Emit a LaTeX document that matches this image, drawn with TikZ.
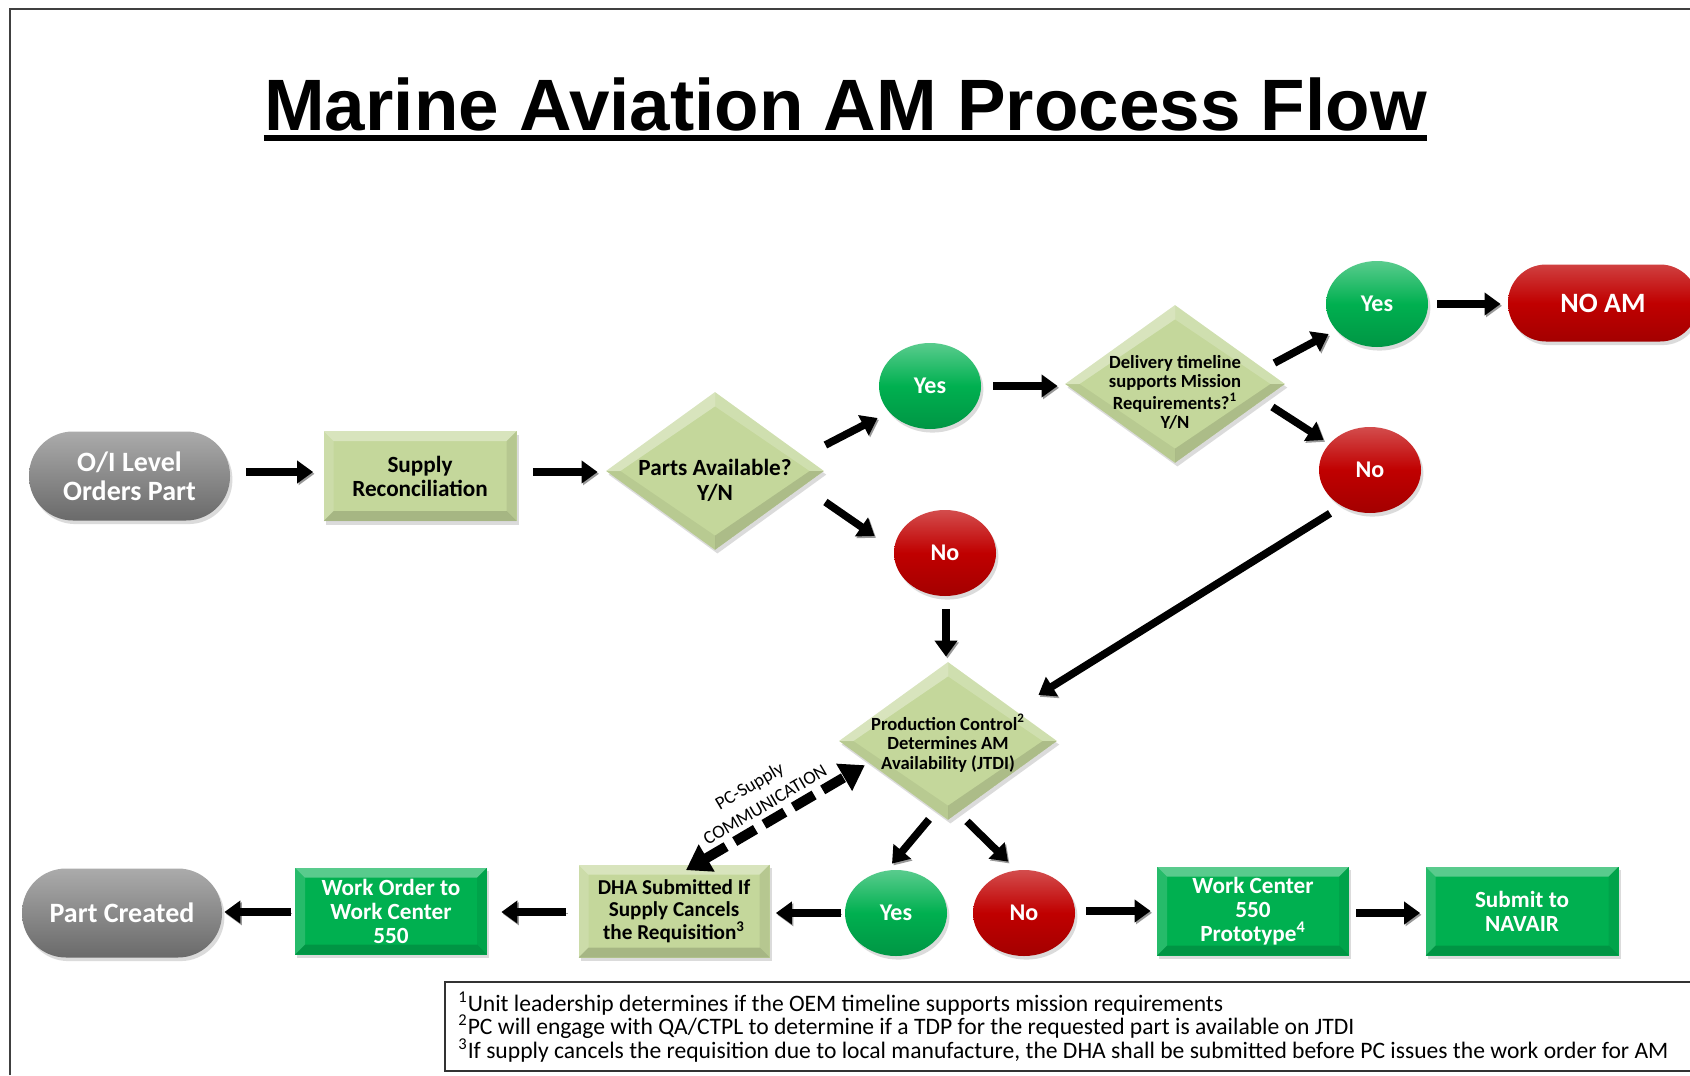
\documentclass[tikz,border=0pt]{standalone}
\usepackage{fontspec}
\setmainfont{Carlito}
\newfontfamily\titlefont{Liberation Sans}
\usetikzlibrary{shapes.geometric,arrows.meta,calc,shadows}
\definecolor{lgreen}{HTML}{C4D79B}
\definecolor{bgreen}{HTML}{00B050}
\definecolor{dred}{HTML}{C00000}
\definecolor{gtop}{HTML}{ABABAB}
\definecolor{gmid}{HTML}{8A8A8A}
\definecolor{gbot}{HTML}{6A6A6A}
\newcommand\dtxt[2][-4pt]{\makebox[0pt]{\smash{\raisebox{#1}{\begin{tabular}{@{}c@{}}#2\end{tabular}}}}}
\tikzset{
  base/.style={inner sep=0pt, align=center, drop shadow={opacity=.28, shadow xshift=1.2pt, shadow yshift=-1.8pt}},
  rbev/.style={path picture={
    \fill[white,opacity=.35] (path picture bounding box.north west) -- (path picture bounding box.north east) -- ([xshift=-5pt,yshift=-5pt]path picture bounding box.north east) -- ([xshift=5pt,yshift=-5pt]path picture bounding box.north west) -- cycle;
    \fill[white,opacity=.15] (path picture bounding box.north west) -- (path picture bounding box.south west) -- ([xshift=5pt,yshift=5pt]path picture bounding box.south west) -- ([xshift=5pt,yshift=-5pt]path picture bounding box.north west) -- cycle;
    \fill[black,opacity=.15] (path picture bounding box.south west) -- (path picture bounding box.south east) -- ([xshift=-5pt,yshift=5pt]path picture bounding box.south east) -- ([xshift=5pt,yshift=5pt]path picture bounding box.south west) -- cycle;
    \fill[black,opacity=.07] (path picture bounding box.north east) -- (path picture bounding box.south east) -- ([xshift=-5pt,yshift=5pt]path picture bounding box.south east) -- ([xshift=-5pt,yshift=-5pt]path picture bounding box.north east) -- cycle;
  }},
  dbev/.style={path picture={
    \coordinate (pC) at (path picture bounding box.center);
    \coordinate (pN) at (path picture bounding box.north);
    \coordinate (pE) at (path picture bounding box.east);
    \coordinate (pS) at (path picture bounding box.south);
    \coordinate (pW) at (path picture bounding box.west);
    \coordinate (qN) at ($(pC)!.82!(pN)$);
    \coordinate (qE) at ($(pC)!.87!(pE)$);
    \coordinate (qS) at ($(pC)!.82!(pS)$);
    \coordinate (qW) at ($(pC)!.87!(pW)$);
    \fill[white,opacity=.35] (pW) -- (pN) -- (qN) -- (qW) -- cycle;
    \fill[white,opacity=.2] (pN) -- (pE) -- (qE) -- (qN) -- cycle;
    \fill[black,opacity=.12] (pE) -- (pS) -- (qS) -- (qE) -- cycle;
    \fill[black,opacity=.06] (pS) -- (pW) -- (qW) -- (qS) -- cycle;
  }},
  pill/.style={base, rectangle, rounded corners=22pt, minimum width=100.5pt, minimum height=44.5pt,
    top color=gtop, bottom color=gbot, middle color=gmid, text=white, font=\bfseries\fontsize{14}{14.5}\selectfont},
  lbox/.style={base, rectangle, fill=lgreen, rbev, minimum width=96pt, minimum height=44.5pt, text=black, font=\bfseries\fontsize{11.6}{12}\selectfont},
  gbox/.style={base, rectangle, fill=bgreen, rbev, minimum width=96pt, minimum height=44.5pt, text=white, font=\bfseries\fontsize{11.6}{12}\selectfont},
  dia/.style={base, diamond, fill=lgreen, dbev, minimum width=109pt, minimum height=79pt, text=black},
  ycirc/.style={base, ellipse, minimum width=51pt, minimum height=43pt, top color=bgreen!65!white, bottom color=bgreen!85!black, middle color=bgreen, text=white, font=\bfseries\fontsize{12}{12}\selectfont},
  ncirc/.style={base, ellipse, minimum width=51pt, minimum height=43pt, top color=dred!70!white, bottom color=dred!85!black, middle color=dred, text=white, font=\bfseries\fontsize{12}{12}\selectfont},
  arr/.style={line width=3.8pt, black, -{Triangle[length=8pt,width=11pt]},
    preaction={draw=black!40, transform canvas={shift={(0.7pt,-0.9pt)}}}},
  darr/.style={line width=5pt, black, dash pattern=on 12pt off 5pt, {Triangle[length=12pt,width=15pt]}-{Triangle[length=12pt,width=15pt]}},
  fnote/.style={anchor=base west, inner sep=0pt, font=\fontsize{11.8}{12}\selectfont},
  clbl/.style={rotate=30.6, inner sep=0pt, font=\fontsize{9.3}{9.3}\selectfont}
}
\begin{document}
\begin{tikzpicture}[x=0.5pt,y=-0.5pt]
\useasboundingbox (0,0) rectangle (1690,1075);
\clip (0,0) rectangle (1690,1075);
\fill[white] (0,0) rectangle (1690,1075);
\draw[line width=1pt, black!75] (10,1075) -- (10,9) -- (1690,9);

% title
\node[anchor=base, inner sep=0pt, font=\titlefont\bfseries\fontsize{36.4}{36}\selectfont] (title) at (845.5,131) {Marine Aviation AM Process Flow};
\draw[line width=3pt] ([yshift=-3.3pt]title.base west) -- ([yshift=-3.3pt]title.base east);

% nodes
\node[pill] (oi) at (129.5,476) {O/I Level\\Orders Part};
\node[lbox, minimum width=96.5pt, minimum height=45pt] (supply) at (420,476) {Supply\\Reconciliation};
\node[dia, font=\bfseries\fontsize{11.6}{12.5}\selectfont] (d1) at (715,471) {\dtxt[-9pt]{Parts Available?\\Y/N}};
\node[ycirc] (yes1) at (930,386) {Yes};
\node[ncirc] (no1) at (945,553) {No};
\node[dia, minimum width=110pt, font=\bfseries\fontsize{9.3}{9.5}\selectfont] (d2) at (1175,384) {\dtxt[-7.5pt]{Delivery timeline\\supports Mission\\Requirements?\textsuperscript{1}\\Y/N}};
\node[ycirc] (yes2) at (1377,304) {Yes};
\node[pill, rounded corners=19pt, minimum width=95pt, minimum height=38.5pt, top color=dred!75!white, bottom color=dred!85!black, middle color=dred] (noam) at (1603,303) {NO AM};
\node[ncirc] (no2) at (1370,470) {No};
\node[dia, font=\bfseries\fontsize{9.3}{9.6}\selectfont] (pc) at (948,741) {\dtxt[-4pt]{Production Control\textsuperscript{2}\\Determines AM\\Availability (JTDI)}};
\node[ycirc] (yes3) at (896,913) {Yes};
\node[ncirc] (no3) at (1024,913) {No};
\node[gbox] (wcp) at (1253,911) {Work Center\\550\\Prototype\textsuperscript{4}};
\node[gbox, minimum width=96.5pt] (navair) at (1522,911) {Submit to\\NAVAIR};
\node[lbox, minimum width=95.5pt, minimum height=46.5pt, font=\bfseries\fontsize{10.6}{11.3}\selectfont] (dha) at (674,911) {DHA Submitted If\\Supply Cancels\\the Requisition\textsuperscript{3}};
\node[gbox, minimum height=43.5pt] (wo) at (391,911) {Work Order to\\Work Center\\550};
\node[pill, minimum width=100pt] (pcr) at (122,913) {Part Created};

% connectors
\draw[arr] ([shift={(16,-4)}]oi.east) -- ([shift={(-10,-4)}]supply.west);
\draw[arr] ([shift={(16,-4)}]supply.east) -- ([shift={(-8,1)}]d1.west);
\draw[arr] ([shift={(1,-26)}]d1.east) -- ([shift={(-1,32)}]yes1.west);
\draw[arr] ([shift={(1,31)}]d1.east) -- ([shift={(-19,-17)}]no1.west);
\draw[arr] ([shift={(12,0)}]yes1.east) -- ([shift={(-7,2)}]d2.west);
\draw[arr] ([shift={(-11,-21)}]d2.east) -- ([shift={(3,30)}]yes2.west);
\draw[arr] ([shift={(9,0)}]yes2.east) -- ([shift={(-7,1)}]noam.west);
\draw[arr] ([shift={(-13,23)}]d2.east) -- ([shift={(5,-30)}]no2.west);
\draw[arr] ([shift={(-40,0)}]no2.south) -- ([shift={(-19,-46)}]pc.east);
\draw[arr] ([shift={(1,13)}]no1.south) -- ([shift={(-2,-5)}]pc.north);
\draw[arr] ([shift={(-19,-1)}]pc.south) -- ([shift={(-4,-6)}]yes3.north);
\draw[arr] ([shift={(19,1)}]pc.south) -- ([shift={(-16,-8)}]no3.north);
\draw[arr] ([shift={(11,-2)}]no3.east) -- ([shift={(-6,0)}]wcp.west);
\draw[arr] ([shift={(7,2)}]wcp.east) -- ([shift={(-5,2)}]navair.west);
\draw[arr] ([shift={(-4,0)}]yes3.west) -- ([shift={(6,2)}]dha.east);
\draw[arr] ([shift={(-12,1)}]dha.west) -- ([shift={(14,1)}]wo.east);
\draw[arr] ([shift={(-4,1)}]wo.west) -- ([shift={(2,-1)}]pcr.east);
\draw[darr] ([shift={(12,6)}]dha.north) -- ([shift={(-28.5,-15.5)}]pc.south west);
\node[clbl] (lbl1) at (750,787) {PC-Supply};
\node[clbl] (lbl2) at (765,805) {COMMUNICATION};

% footnotes
\draw[line width=0.8pt, black!80] (445,982) rectangle (1700,1071);
\node[fnote] (fn1) at (458,1011) {\textsuperscript{1}Unit leadership determines if the OEM timeline supports mission requirements};
\node[fnote] (fn2) at (458,1034) {\textsuperscript{2}PC will engage with QA/CTPL to determine if a TDP for the requested part is available on JTDI};
\node[fnote] (fn3) at (458,1058) {\textsuperscript{3}If supply cancels the requisition due to local manufacture, the DHA shall be submitted before PC issues the work order for AM};
\end{tikzpicture}
\end{document}
